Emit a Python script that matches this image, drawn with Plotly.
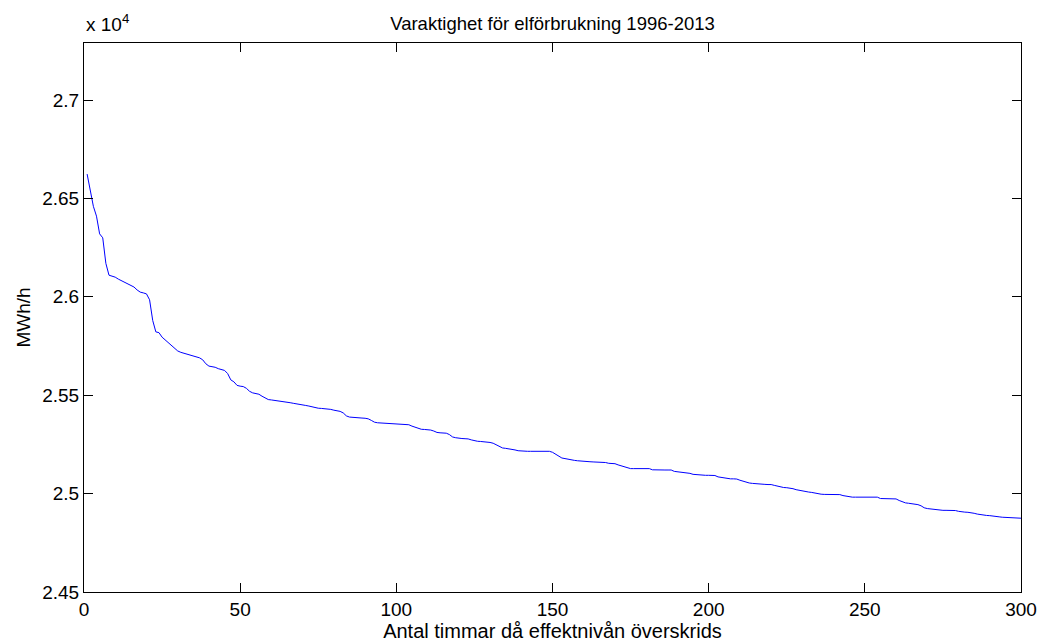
import plotly.graph_objects as go

# Hours (1..300) and load values (MWh/h)
hours = list(range(1, 301))
load_mwh = [
    26624, 26550, 26460, 26410, 26320, 26300, 26170, 26110, 26105, 26100,
    26090, 26082, 26075, 26068, 26060, 26050, 26035, 26024, 26020, 26015,
    25985, 25880, 25822, 25818, 25795, 25780, 25765, 25755, 25735, 25725,
    25718, 25713, 25710, 25706, 25702, 25697, 25690, 25680, 25660, 25648,
    25645, 25642, 25635, 25630, 25626, 25610, 25578, 25568, 25550, 25546,
    25544, 25535, 25520, 25512, 25508, 25505, 25495, 25485, 25478, 25476,
    25474, 25472, 25471, 25468, 25465, 25462, 25459, 25457, 25455, 25452,
    25448, 25445, 25441, 25437, 25434, 25433, 25432, 25431, 25428, 25424,
    25421, 25418, 25410, 25395, 25389, 25387, 25386, 25385, 25384, 25383,
    25380, 25372, 25363, 25360, 25359, 25358, 25357, 25355, 25353, 25353,
    25353, 25353, 25352, 25350, 25343, 25338, 25330, 25327, 25326, 25325,
    25323, 25318, 25311, 25309, 25308, 25307, 25300, 25288, 25284, 25281,
    25280, 25279, 25278, 25273, 25268, 25266, 25265, 25264, 25263, 25260,
    25256, 25248, 25238, 25232, 25230, 25228, 25226, 25222, 25218, 25216,
    25215, 25215, 25215, 25215, 25215, 25215, 25215, 25215, 25215, 25210,
    25200, 25190, 25181, 25178, 25174, 25171, 25169, 25167, 25165, 25163,
    25162, 25162, 25161, 25161, 25161, 25161, 25158, 25154, 25154, 25152,
    25146, 25141, 25135, 25130, 25127, 25127, 25127, 25127, 25127, 25127,
    25127, 25121, 25120, 25120, 25120, 25120, 25120, 25120, 25113, 25111,
    25109, 25108, 25107, 25103, 25098, 25096, 25095, 25094, 25093, 25093,
    25092, 25092, 25085, 25082, 25078, 25076, 25075, 25075, 25074, 25068,
    25063, 25057, 25054, 25052, 25050, 25049, 25048, 25047, 25046, 25046,
    25042, 25037, 25033, 25031, 25030, 25029, 25025, 25020, 25016, 25012,
    25010, 25008, 25006, 25002, 24998, 24997, 24996, 24996, 24996, 24995,
    24995, 24995, 24990, 24987, 24984, 24982, 24982, 24982, 24982, 24982,
    24982, 24982, 24982, 24982, 24975, 24974, 24974, 24973, 24973, 24973,
    24965, 24957, 24953, 24951, 24949, 24946, 24944, 24938, 24928, 24924,
    24922, 24919, 24917, 24916, 24915, 24915, 24915, 24914, 24914, 24910,
    24907, 24906, 24905, 24904, 24900, 24896, 24893, 24891, 24889, 24888,
    24887, 24885, 24882, 24880, 24879, 24878, 24877, 24877, 24876, 24875,
]

x_ticks = [0, 50, 100, 150, 200, 250, 300]
y_ticks = [24500, 25000, 25500, 26000, 26500, 27000]
y_tick_labels = ["2.45", "2.5", "2.55", "2.6", "2.65", "2.7"]

title_text = "Varaktighet för elförbrukning 1996-2013"
x_title = "Antal timmar då effektnivån överskrids"
y_title = "MWh/h"

FONT = "Liberation Sans, Arial, Helvetica, sans-serif"
FS_TICK = 19
FS_TITLE = 18.5
FS_XLABEL = 20
FS_YLABEL = 19

fig = go.Figure()
fig.add_trace(go.Scatter(
    x=hours, y=load_mwh, mode="lines",
    line=dict(color="rgb(0,0,255)", width=1),
    showlegend=False, hoverinfo="x+y",
))

W, H = 1040, 642
L, R, T, B = 84, 18.5, 43, 50

axis_common = dict(
    showline=True, linecolor="black", linewidth=1, mirror="ticks",
    ticks="inside", ticklen=9, tickwidth=1, tickcolor="black",
    showgrid=False, zeroline=False, automargin=False,
    tickfont=dict(family=FONT, size=FS_TICK, color="black"),
)

fig.update_layout(
    width=W, height=H,
    margin=dict(l=L, r=R, t=T, b=B, pad=0),
    paper_bgcolor="white", plot_bgcolor="white",
    font=dict(family=FONT, size=FS_TICK, color="black"),
    title=dict(text=title_text, x=0.5, xref="paper", xanchor="center",
               y=1 - 24 / H, yref="container", yanchor="middle",
               font=dict(family=FONT, size=FS_TITLE, color="black")),
    xaxis=dict(range=[0, 300], tickvals=x_ticks, **axis_common,
               title=dict(text=x_title, standoff=0,
                          font=dict(family=FONT, size=FS_XLABEL, color="black"))),
    yaxis=dict(range=[24500, 27290], tickvals=y_ticks, ticktext=y_tick_labels,
               **axis_common,
               title=dict(text=y_title, standoff=6,
                          font=dict(family=FONT, size=FS_YLABEL, color="black"))),
)

fig.add_annotation(
    text="x 10<sup>4</sup>", xref="paper", yref="paper", x=0, y=1,
    xanchor="left", yanchor="bottom", yshift=6, showarrow=False,
    font=dict(family=FONT, size=FS_TICK, color="black"),
)

fig.write_html("out.html")
